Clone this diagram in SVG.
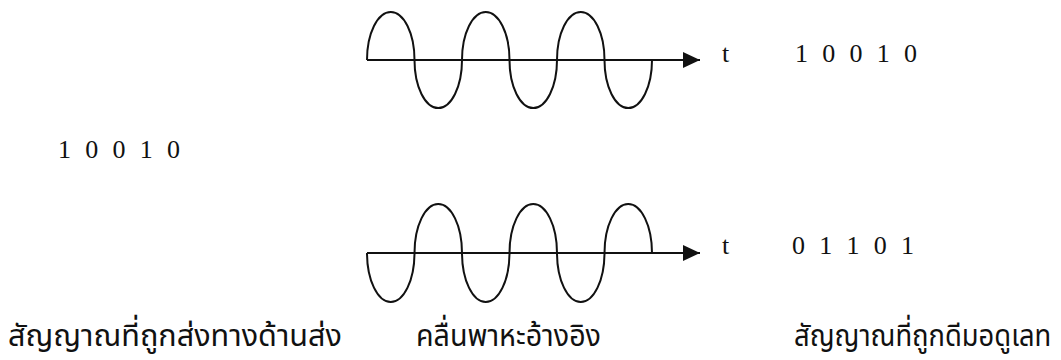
<svg xmlns="http://www.w3.org/2000/svg" width="1061" height="360" viewBox="0 0 1061 360">
<style>
.wave{fill:none;stroke:#111;stroke-width:2}
.axis{stroke:#111;stroke-width:2}
.num{font-family:"Liberation Serif","Times New Roman",serif;font-size:26px;fill:#111;word-spacing:7.75px}
.th{font-family:"Noto Sans Thai","Noto Sans","DejaVu Sans",sans-serif;font-size:31px;fill:#111}
</style>
<defs>
<marker id="arr" markerWidth="17" markerHeight="16" refX="17" refY="8" orient="auto" markerUnits="userSpaceOnUse">
<path d="M0,0 L17,8 L0,16 Z" fill="#111"/>
</marker>
</defs>
<rect width="1061" height="360" fill="#fff"/>
<g id="connectors">
<line class="axis" x1="367" y1="60" x2="700" y2="60" marker-end="url(#arr)"/>
<line class="axis" x1="367" y1="253" x2="700" y2="253" marker-end="url(#arr)"/>
</g>
<g id="transmitted-wave">
<path class="wave" d="M367,60 A23.75,48 0 0 1 414.5,60 A23.75,48 0 0 0 462,60 A23.75,48 0 0 1 509.5,60 A23.75,48 0 0 0 557,60 A23.75,48 0 0 1 604.5,60 A23.75,48 0 0 0 652,60"/>
<text class="num" x="722" y="62">t</text>
<text class="num" x="795" y="62" xml:space="preserve">1 0 0 1 0</text>
</g>
<g id="carrier-wave">
<path class="wave" d="M367,253 A23.75,49 0 0 0 414.5,253 A23.75,49 0 0 1 462,253 A23.75,49 0 0 0 509.5,253 A23.75,49 0 0 1 557,253 A23.75,49 0 0 0 604.5,253 A23.75,49 0 0 1 652,253"/>
<text class="num" x="722" y="254">t</text>
<text class="num" x="792" y="254" xml:space="preserve">0 1 1 0 1</text>
</g>
<g id="input-bits">
<text class="num" x="58" y="158" xml:space="preserve">1 0 0 1 0</text>
</g>
<g id="labels">
<text class="th" x="8" y="346" textLength="334" lengthAdjust="spacingAndGlyphs">สัญญาณที่ถูกส่งทางด้านส่ง</text>
<text class="th" x="416" y="346" textLength="185" lengthAdjust="spacingAndGlyphs">คลื่นพาหะอ้างอิง</text>
<text class="th" transform="translate(794,346) scale(0.883,1)">สัญญาณที่ถูกดีมอดูเลท</text>
</g>
</svg>
